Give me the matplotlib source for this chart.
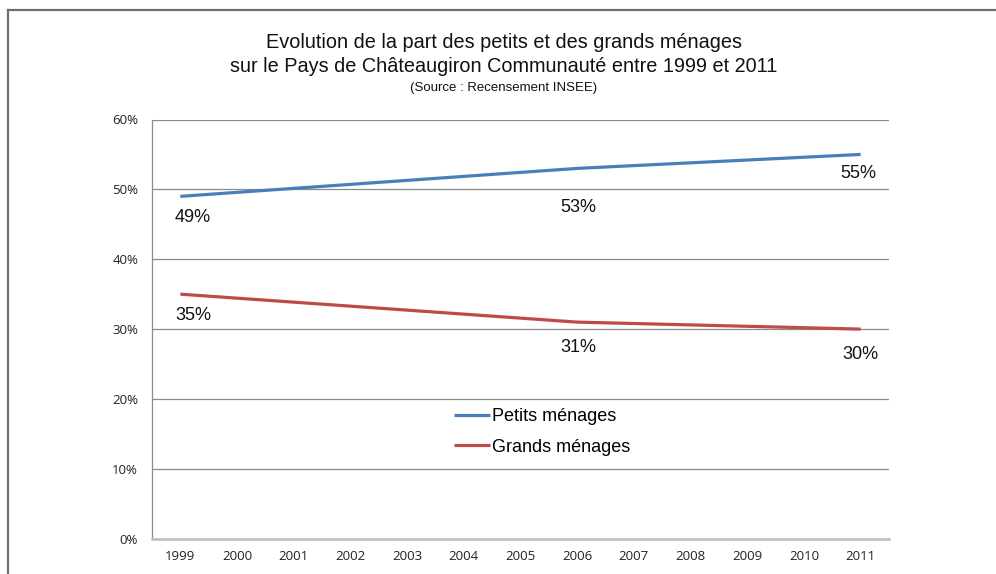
import matplotlib
matplotlib.use("Agg")
import matplotlib.pyplot as plt
from matplotlib.lines import Line2D
from matplotlib.ticker import FuncFormatter

years = [1999, 2006, 2011]
petits = [49, 53, 55]
grands = [35, 31, 30]
tick_years = list(range(1999, 2012))
series_names = ["Petits ménages", "Grands ménages"]
petits_labels = ["49%", "53%", "55%"]
grands_labels = ["35%", "31%", "30%"]

W, H = 996, 574
fig = plt.figure(figsize=(W / 100, H / 100), dpi=100)
ax = fig.add_axes([152 / W, 1 - 538.7 / H, (889 - 152) / W, (538.7 - 119.5) / H])

blue = "#4A7EBB"
red = "#BE4B48"
ax.plot(years, petits, color=blue, lw=2.3, solid_capstyle="butt", label=series_names[0], zorder=3)
ax.plot(years, grands, color=red, lw=2.3, solid_capstyle="butt", label=series_names[1], zorder=3)

ax.set_xlim(1998.5, 2011.5)
ax.set_ylim(0, 60)
ax.set_yticks(range(0, 61, 10))
ax.yaxis.set_major_formatter(FuncFormatter(lambda v, p: f"{int(v)}%"))
ax.set_xticks(tick_years)
ax.set_xticklabels([str(y) for y in tick_years])
ax.grid(axis="y", color="#8c8c8c", lw=0.9, zorder=0)
ax.set_axisbelow(True)
for s in ["top", "right"]:
    ax.spines[s].set_visible(False)
ax.spines["left"].set_color("#8c8c8c")
ax.spines["left"].set_linewidth(0.9)
ax.spines["bottom"].set_color("#bdbdbd")
ax.spines["bottom"].set_linewidth(1.8)
ax.tick_params(axis="both", length=0, colors="#222222")
ax.tick_params(axis="x", pad=8)
ax.tick_params(axis="y", pad=10)
for t in ax.get_xticklabels() + ax.get_yticklabels():
    t.set_family(["Open Sans", "DejaVu Sans"])
    t.set_fontsize(9.5)

# data labels (offsets in points)
p_off = [(9, -15), (1, -28), (-2, -14)]
g_off = [(9, -15), (1, -18), (0, -18)]
for x, y, lab, off in zip(years, petits, petits_labels, p_off):
    ax.annotate(lab, (x, y), xytext=off, textcoords="offset points", ha="center", va="center",
                fontsize=13, family=["Liberation Sans", "DejaVu Sans"], color="#111111")
for x, y, lab, off in zip(years, grands, grands_labels, g_off):
    ax.annotate(lab, (x, y), xytext=off, textcoords="offset points", ha="center", va="center",
                fontsize=13, family=["Liberation Sans", "DejaVu Sans"], color="#111111")

leg = ax.legend(loc="upper left", bbox_to_anchor=((438 - 152) / (889 - 152), 1 - (392 - 119.5) / (538.7 - 119.5)),
                frameon=False, handlelength=2.0, handletextpad=0.1, labelspacing=0.75,
                prop={"family": ["Liberation Sans", "DejaVu Sans"], "size": 13})

tfam = ["Liberation Sans Narrow", "Liberation Sans", "DejaVu Sans"]
cx = 504 / W
fig.text(cx, 1 - 42 / H, "Evolution de la part des petits et des grands ménages", ha="center", va="center",
         fontsize=14.3, family=tfam, color="#111111")
fig.text(cx, 1 - 67 / H, "sur le Pays de Châteaugiron Communauté entre 1999 et 2011", ha="center", va="center",
         fontsize=14.3, family=tfam, color="#111111")
fig.text(cx, 1 - 88 / H, "(Source : Recensement INSEE)", ha="center", va="center",
         fontsize=9.5, family=tfam, color="#111111")

# outer frame (top and left edges visible)
fig.add_artist(Line2D([8 / W, 1], [1 - 10 / H, 1 - 10 / H], transform=fig.transFigure, color="#6e6e6e", lw=1.6))
fig.add_artist(Line2D([8 / W, 8 / W], [0, 1 - 10 / H], transform=fig.transFigure, color="#6e6e6e", lw=1.6))

fig.savefig("out.png", dpi=100)
